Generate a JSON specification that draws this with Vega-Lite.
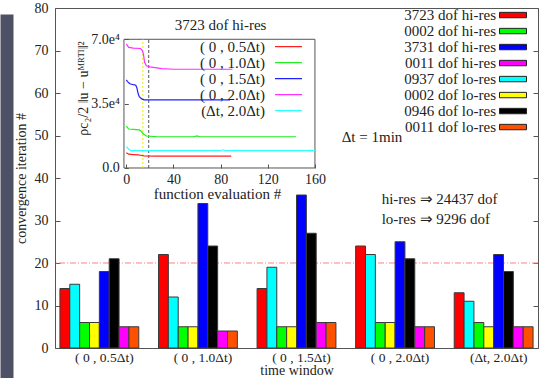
{
  "$schema": "https://vega.github.io/schema/vega-lite/v6.json",
  "width": 483,
  "height": 340,
  "autosize": {"type": "none"},
  "padding": {"left": 55, "top": 8, "right": 13, "bottom": 30},
  "background": "#ffffff",
  "config": {
    "font": "'Liberation Serif', 'Times New Roman', serif",
    "view": {"stroke": "#555555", "strokeWidth": 1},
    "axis": {"labelFont": "'Liberation Serif', 'Times New Roman', serif", "titleFont": "'Liberation Serif', 'Times New Roman', serif", "labelFontSize": 14, "titleFontSize": 14, "titleFontWeight": "normal", "labelColor": "#222222", "titleColor": "#222222", "grid": false, "domainColor": "#555555", "tickColor": "#555555"},
    "legend": {"labelFont": "'Liberation Serif', 'Times New Roman', serif", "labelFontSize": 15, "labelColor": "#222222", "padding": 0},
    "text": {"font": "'Liberation Serif', 'Times New Roman', serif", "fontSize": 15, "color": "#222222"}
  },
  "layer": [
    {
      "data": {"values": [{"target": 20}]},
      "mark": {"type": "rule", "color": "#ff8080", "strokeWidth": 1, "strokeDash": [6, 2, 1, 2]},
      "encoding": {
        "y": {"field": "target", "type": "quantitative", "scale": {"domain": [-7.06, 78.59], "range": [370, 6], "nice": false, "zero": false},
          "axis": {"orient": "left", "offset": 48.5, "domain": true, "domainWidth": 13, "domainColor": "#4e5066", "ticks": false, "labels": false, "title": null}}
      }
    },
    {
      "data": {"values": [{"target": 20}]},
      "mark": {"type": "rule", "opacity": 0},
      "encoding": {
        "y": {"field": "target", "type": "quantitative", "scale": {"domain": [0, 80], "nice": false},
          "axis": {"orient": "right", "values": [0, 10, 20, 30, 40, 50, 60, 70, 80], "domain": false, "tickSize": -5, "labels": false, "title": null}}
      }
    },
    {
      "data": {"values": [
        {"window": "( 0 , 0.5Δt)", "series": "3723 dof hi-res", "iters": 14},
        {"window": "( 0 , 0.5Δt)", "series": "0937 dof lo-res", "iters": 15},
        {"window": "( 0 , 0.5Δt)", "series": "0002 dof hi-res", "iters": 6},
        {"window": "( 0 , 0.5Δt)", "series": "0002 dof lo-res", "iters": 6},
        {"window": "( 0 , 0.5Δt)", "series": "3731 dof hi-res", "iters": 18},
        {"window": "( 0 , 0.5Δt)", "series": "0946 dof lo-res", "iters": 21},
        {"window": "( 0 , 0.5Δt)", "series": "0011 dof hi-res", "iters": 5},
        {"window": "( 0 , 0.5Δt)", "series": "0011 dof lo-res", "iters": 5},
        {"window": "( 0 , 1.0Δt)", "series": "3723 dof hi-res", "iters": 22},
        {"window": "( 0 , 1.0Δt)", "series": "0937 dof lo-res", "iters": 12},
        {"window": "( 0 , 1.0Δt)", "series": "0002 dof hi-res", "iters": 5},
        {"window": "( 0 , 1.0Δt)", "series": "0002 dof lo-res", "iters": 5},
        {"window": "( 0 , 1.0Δt)", "series": "3731 dof hi-res", "iters": 34},
        {"window": "( 0 , 1.0Δt)", "series": "0946 dof lo-res", "iters": 24},
        {"window": "( 0 , 1.0Δt)", "series": "0011 dof hi-res", "iters": 4},
        {"window": "( 0 , 1.0Δt)", "series": "0011 dof lo-res", "iters": 4},
        {"window": "( 0 , 1.5Δt)", "series": "3723 dof hi-res", "iters": 14},
        {"window": "( 0 , 1.5Δt)", "series": "0937 dof lo-res", "iters": 19},
        {"window": "( 0 , 1.5Δt)", "series": "0002 dof hi-res", "iters": 5},
        {"window": "( 0 , 1.5Δt)", "series": "0002 dof lo-res", "iters": 5},
        {"window": "( 0 , 1.5Δt)", "series": "3731 dof hi-res", "iters": 36},
        {"window": "( 0 , 1.5Δt)", "series": "0946 dof lo-res", "iters": 27},
        {"window": "( 0 , 1.5Δt)", "series": "0011 dof hi-res", "iters": 6},
        {"window": "( 0 , 1.5Δt)", "series": "0011 dof lo-res", "iters": 6},
        {"window": "( 0 , 2.0Δt)", "series": "3723 dof hi-res", "iters": 24},
        {"window": "( 0 , 2.0Δt)", "series": "0937 dof lo-res", "iters": 22},
        {"window": "( 0 , 2.0Δt)", "series": "0002 dof hi-res", "iters": 6},
        {"window": "( 0 , 2.0Δt)", "series": "0002 dof lo-res", "iters": 6},
        {"window": "( 0 , 2.0Δt)", "series": "3731 dof hi-res", "iters": 25},
        {"window": "( 0 , 2.0Δt)", "series": "0946 dof lo-res", "iters": 21},
        {"window": "( 0 , 2.0Δt)", "series": "0011 dof hi-res", "iters": 5},
        {"window": "( 0 , 2.0Δt)", "series": "0011 dof lo-res", "iters": 5},
        {"window": "(Δt, 2.0Δt)", "series": "3723 dof hi-res", "iters": 13},
        {"window": "(Δt, 2.0Δt)", "series": "0937 dof lo-res", "iters": 11},
        {"window": "(Δt, 2.0Δt)", "series": "0002 dof hi-res", "iters": 6},
        {"window": "(Δt, 2.0Δt)", "series": "0002 dof lo-res", "iters": 5},
        {"window": "(Δt, 2.0Δt)", "series": "3731 dof hi-res", "iters": 22},
        {"window": "(Δt, 2.0Δt)", "series": "0946 dof lo-res", "iters": 18},
        {"window": "(Δt, 2.0Δt)", "series": "0011 dof hi-res", "iters": 5},
        {"window": "(Δt, 2.0Δt)", "series": "0011 dof lo-res", "iters": 5}
      ]},
      "mark": {"type": "bar", "stroke": "#3a3a3a", "strokeWidth": 1},
      "encoding": {
        "x": {"field": "window", "type": "nominal",
          "sort": ["( 0 , 0.5Δt)", "( 0 , 1.0Δt)", "( 0 , 1.5Δt)", "( 0 , 2.0Δt)", "(Δt, 2.0Δt)"],
          "scale": {"paddingInner": 0.2, "paddingOuter": 0.05},
          "axis": {"orient": "bottom", "title": "time window", "labelAngle": 0, "ticks": false, "domain": false, "labelOffset": 5, "labelPadding": 2, "labelFontSize": 13.5, "titlePadding": 0}},
        "xOffset": {"field": "series", "type": "nominal",
          "sort": ["3723 dof hi-res", "0937 dof lo-res", "0002 dof hi-res", "0002 dof lo-res", "3731 dof hi-res", "0946 dof lo-res", "0011 dof hi-res", "0011 dof lo-res"],
          "scale": {"paddingInner": 0, "paddingOuter": 0}},
        "y": {"field": "iters", "type": "quantitative", "scale": {"domain": [0, 80], "nice": false},
          "axis": {"orient": "left", "title": "convergence iteration #", "values": [0, 10, 20, 30, 40, 50, 60, 70, 80], "domain": false, "tickSize": -5, "labelPadding": 12, "titlePadding": 6}},
        "color": {"field": "series", "type": "nominal",
          "scale": {"domain": ["3723 dof hi-res", "0002 dof hi-res", "3731 dof hi-res", "0011 dof hi-res", "0937 dof lo-res", "0002 dof lo-res", "0946 dof lo-res", "0011 dof lo-res"],
                    "range": ["#ff0000", "#00ff00", "#0000ff", "#ff00ff", "#00ffff", "#ffff00", "#000000", "#ff5000"]},
          "legend": {"orient": "none", "legendX": 444, "legendY": 1.9, "title": null, "symbolType": "M-1,-0.2H1V0.2H-1Z", "symbolSize": 729, "symbolStrokeColor": "#222222", "symbolStrokeWidth": 1, "symbolOpacity": 1, "labelAlign": "right", "labelOffset": -31, "rowPadding": 0, "clipHeight": 10.3,
            "encode": {"entries": {"update": {"width": {"value": 30}}}}}}
      }
    },
    {
      "layer": [
        {
          "data": {"values": [{}]},
          "mark": {"type": "rect", "fill": "transparent", "stroke": "#555555", "strokeWidth": 1},
          "encoding": {
            "x": {"datum": -2, "type": "quantitative", "scale": {"domain": [-60.5, 349.2], "nice": false, "zero": false}},
            "x2": {"datum": 160},
            "y": {"datum": 0, "type": "quantitative", "scale": {"domain": [-97900, 87020], "nice": false, "zero": false}},
            "y2": {"datum": 70000}
          }
        },
        {
          "data": {"values": [{"evals": 14}]},
          "mark": {"type": "rule", "color": "#e8e800", "strokeWidth": 1, "strokeDash": [2, 2]},
          "encoding": {
            "x": {"field": "evals", "type": "quantitative", "scale": {"domain": [-60.5, 349.2], "nice": false, "zero": false}},
            "y": {"datum": 0, "type": "quantitative", "scale": {"domain": [-97900, 87020], "nice": false, "zero": false}},
            "y2": {"datum": 70000}
          }
        },
        {
          "data": {"values": [{"evals": 19}]},
          "mark": {"type": "rule", "color": "#555555", "strokeWidth": 1, "strokeDash": [3, 2]},
          "encoding": {
            "x": {"field": "evals", "type": "quantitative", "scale": {"domain": [-60.5, 349.2], "nice": false, "zero": false}},
            "y": {"datum": 0, "type": "quantitative", "scale": {"domain": [-97900, 87020], "nice": false, "zero": false}},
            "y2": {"datum": 70000}
          }
        },
        {
          "data": {"values": [
            {"w": "( 0 , 0.5Δt)", "ev": 0, "val": 8300}, {"w": "( 0 , 0.5Δt)", "ev": 2, "val": 7500}, {"w": "( 0 , 0.5Δt)", "ev": 6, "val": 7300}, {"w": "( 0 , 0.5Δt)", "ev": 10, "val": 7100}, {"w": "( 0 , 0.5Δt)", "ev": 13, "val": 6800}, {"w": "( 0 , 0.5Δt)", "ev": 15, "val": 6600}, {"w": "( 0 , 0.5Δt)", "ev": 25, "val": 6500}, {"w": "( 0 , 0.5Δt)", "ev": 89, "val": 6500},
            {"w": "( 0 , 1.0Δt)", "ev": 0, "val": 22800}, {"w": "( 0 , 1.0Δt)", "ev": 2, "val": 21200}, {"w": "( 0 , 1.0Δt)", "ev": 6, "val": 21000}, {"w": "( 0 , 1.0Δt)", "ev": 11, "val": 20700}, {"w": "( 0 , 1.0Δt)", "ev": 12.5, "val": 20000}, {"w": "( 0 , 1.0Δt)", "ev": 14.5, "val": 18500}, {"w": "( 0 , 1.0Δt)", "ev": 17, "val": 17400}, {"w": "( 0 , 1.0Δt)", "ev": 25, "val": 17100}, {"w": "( 0 , 1.0Δt)", "ev": 57, "val": 17000}, {"w": "( 0 , 1.0Δt)", "ev": 60, "val": 17500}, {"w": "( 0 , 1.0Δt)", "ev": 62, "val": 17000}, {"w": "( 0 , 1.0Δt)", "ev": 144, "val": 17000},
            {"w": "( 0 , 1.5Δt)", "ev": 0, "val": 47900}, {"w": "( 0 , 1.5Δt)", "ev": 1, "val": 47000}, {"w": "( 0 , 1.5Δt)", "ev": 3, "val": 45800}, {"w": "( 0 , 1.5Δt)", "ev": 6, "val": 45300}, {"w": "( 0 , 1.5Δt)", "ev": 8, "val": 45000}, {"w": "( 0 , 1.5Δt)", "ev": 9, "val": 43500}, {"w": "( 0 , 1.5Δt)", "ev": 10, "val": 40500}, {"w": "( 0 , 1.5Δt)", "ev": 11, "val": 38800}, {"w": "( 0 , 1.5Δt)", "ev": 13, "val": 37600}, {"w": "( 0 , 1.5Δt)", "ev": 15, "val": 37100}, {"w": "( 0 , 1.5Δt)", "ev": 88, "val": 37000},
            {"w": "( 0 , 2.0Δt)", "ev": 0, "val": 67500}, {"w": "( 0 , 2.0Δt)", "ev": 2, "val": 65600}, {"w": "( 0 , 2.0Δt)", "ev": 6, "val": 65200}, {"w": "( 0 , 2.0Δt)", "ev": 12, "val": 65000}, {"w": "( 0 , 2.0Δt)", "ev": 13.5, "val": 64000}, {"w": "( 0 , 2.0Δt)", "ev": 14.5, "val": 62000}, {"w": "( 0 , 2.0Δt)", "ev": 15.5, "val": 57500}, {"w": "( 0 , 2.0Δt)", "ev": 17, "val": 55600}, {"w": "( 0 , 2.0Δt)", "ev": 20, "val": 55000}, {"w": "( 0 , 2.0Δt)", "ev": 30, "val": 54000}, {"w": "( 0 , 2.0Δt)", "ev": 40, "val": 53700}, {"w": "( 0 , 2.0Δt)", "ev": 90, "val": 53700},
            {"w": "(Δt, 2.0Δt)", "ev": 0, "val": 11600}, {"w": "(Δt, 2.0Δt)", "ev": 2, "val": 10200}, {"w": "(Δt, 2.0Δt)", "ev": 4, "val": 9400}, {"w": "(Δt, 2.0Δt)", "ev": 80, "val": 9400}, {"w": "(Δt, 2.0Δt)", "ev": 82, "val": 9900}, {"w": "(Δt, 2.0Δt)", "ev": 84, "val": 9400}, {"w": "(Δt, 2.0Δt)", "ev": 160, "val": 9400}
          ]},
          "mark": {"type": "line", "strokeWidth": 1.2},
          "encoding": {
            "x": {"field": "ev", "type": "quantitative", "scale": {"domain": [-60.5, 349.2], "nice": false, "zero": false},
              "axis": {"orient": "bottom", "offset": -180, "values": [0, 40, 80, 120, 160], "domain": false, "tickSize": -4, "labelPadding": 8, "title": "function evaluation #", "titleFontSize": 15, "titleX": 162, "titleY": 25, "titleBaseline": "middle"}},
            "y": {"field": "val", "type": "quantitative", "scale": {"domain": [-97900, 87020], "nice": false, "zero": false},
              "axis": {"orient": "left", "offset": -69.3, "values": [0, 35000, 70000], "labelExpr": "datum.value == 0 ? '0.0' : format(datum.value / 10000, '.1f') + 'e⁴'", "domain": false, "tickSize": -4, "labelPadding": 9, "title": "ρc₂/2 ‖u − uᴹᴿᵀᴵ‖²", "titleY": 80, "titlePadding": 0}},
            "color": {"field": "w", "type": "nominal",
              "scale": {"domain": ["( 0 , 0.5Δt)", "( 0 , 1.0Δt)", "( 0 , 1.5Δt)", "( 0 , 2.0Δt)", "(Δt, 2.0Δt)"], "range": ["#ff2020", "#20ee20", "#2020ff", "#ff30ff", "#30ffff"]},
              "legend": {"orient": "none", "legendX": 219, "legendY": 33.6, "title": null, "symbolType": "stroke", "symbolSize": 729, "symbolStrokeWidth": 1.2, "labelAlign": "right", "labelOffset": -38, "rowPadding": 0, "clipHeight": 10.2,
                "encode": {"entries": {"update": {"width": {"value": 30}}}}}}
          }
        },
        {
          "data": {"values": [{}]},
          "mark": {"type": "text", "align": "center", "baseline": "middle"},
          "encoding": {
            "x": {"datum": 80, "type": "quantitative", "scale": {"domain": [-60.5, 349.2], "nice": false, "zero": false}},
            "y": {"datum": 78000, "type": "quantitative", "scale": {"domain": [-97900, 87020], "nice": false, "zero": false}},
            "text": {"value": "3723 dof hi-res"}
          }
        },
        {
          "data": {"values": [{}]},
          "mark": {"type": "text", "align": "left", "baseline": "middle"},
          "encoding": {
            "x": {"datum": 182.7, "type": "quantitative", "scale": {"domain": [-60.5, 349.2], "nice": false, "zero": false}},
            "y": {"datum": 16600, "type": "quantitative", "scale": {"domain": [-97900, 87020], "nice": false, "zero": false}},
            "text": {"value": "Δt = 1min"}
          }
        },
        {
          "data": {"values": [{}]},
          "mark": {"type": "text", "align": "left", "baseline": "middle"},
          "encoding": {
            "x": {"datum": 216.6, "type": "quantitative", "scale": {"domain": [-60.5, 349.2], "nice": false, "zero": false}},
            "y": {"datum": -17000, "type": "quantitative", "scale": {"domain": [-97900, 87020], "nice": false, "zero": false}},
            "text": {"value": "hi-res ⇒ 24437 dof"}
          }
        },
        {
          "data": {"values": [{}]},
          "mark": {"type": "text", "align": "left", "baseline": "middle"},
          "encoding": {
            "x": {"datum": 216.6, "type": "quantitative", "scale": {"domain": [-60.5, 349.2], "nice": false, "zero": false}},
            "y": {"datum": -27500, "type": "quantitative", "scale": {"domain": [-97900, 87020], "nice": false, "zero": false}},
            "text": {"value": "lo-res ⇒ 9296 dof"}
          }
        }
      ]
    }
  ],
  "resolve": {"scale": {"x": "independent", "y": "independent", "color": "independent"}}
}
